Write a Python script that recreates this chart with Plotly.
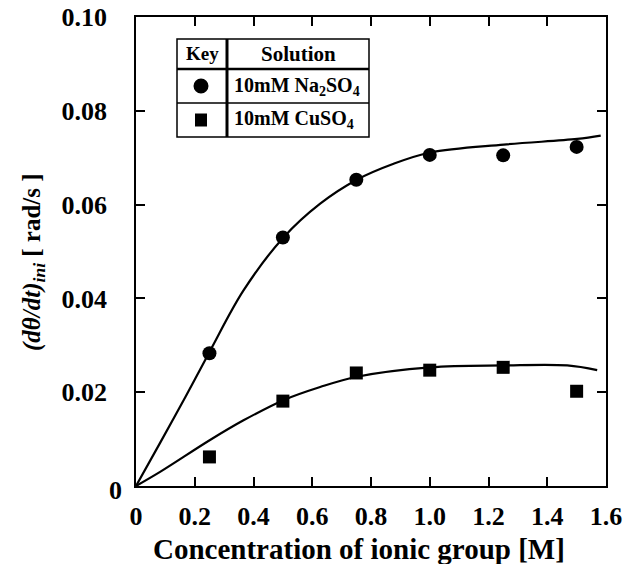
import plotly.graph_objects as go

# Measured points
x_pts = [0.25, 0.50, 0.75, 1.00, 1.25, 1.50]
na_pts = [0.0283, 0.0530, 0.0653, 0.0706, 0.0705, 0.0723]
cu_pts = [0.0062, 0.0181, 0.0241, 0.0247, 0.0253, 0.0202]

# Fitted curves
na_fit_x = [0.0, 0.082, 0.17, 0.252, 0.366, 0.502, 0.627, 0.752, 0.877, 1.002, 1.252, 1.502, 1.582]
na_fit_y = [0.0, 0.0092, 0.0192, 0.0288, 0.0417, 0.0530, 0.0602, 0.0653, 0.0687, 0.0711, 0.0728, 0.0740, 0.0747]
cu_fit_x = [0.0, 0.082, 0.252, 0.366, 0.502, 0.627, 0.752, 1.002, 1.252, 1.468, 1.57]
cu_fit_y = [0.0, 0.0030, 0.0098, 0.0140, 0.0183, 0.0211, 0.0233, 0.0253, 0.0257, 0.0257, 0.0247]

x_ticks = [0, 0.2, 0.4, 0.6, 0.8, 1.0, 1.2, 1.4, 1.6]
x_ticklabels = ["0", "0.2", "0.4", "0.6", "0.8", "1.0", "1.2", "1.4", "1.6"]
y_ticks = [0, 0.02, 0.04, 0.06, 0.08, 0.10]
y_ticklabels = ["0", "0.02", "0.04", "0.06", "0.08", "0.10"]

FONT = "Liberation Serif"
W, H = 623, 564
# plot frame in pixels
L, R, T, B = 136, 606, 17, 486


def px(x):
    return (x - L) / (R - L)


def py(y):
    return (B - y) / (B - T)


fig = go.Figure()
fig.add_trace(go.Scatter(x=na_fit_x, y=na_fit_y, mode="lines",
                         line=dict(color="black", width=2.2, shape="spline", smoothing=1.0),
                         showlegend=False, hoverinfo="skip"))
fig.add_trace(go.Scatter(x=cu_fit_x, y=cu_fit_y, mode="lines",
                         line=dict(color="black", width=2.2, shape="spline", smoothing=1.0),
                         showlegend=False, hoverinfo="skip"))
fig.add_trace(go.Scatter(x=x_pts, y=na_pts, mode="markers", name="10mM Na2SO4",
                         marker=dict(symbol="circle", size=14, color="black"), showlegend=False))
fig.add_trace(go.Scatter(x=x_pts, y=cu_pts, mode="markers", name="10mM CuSO4",
                         marker=dict(symbol="square", size=13, color="black"), showlegend=False))

axis_common = dict(showline=True, linecolor="black", linewidth=1.5, mirror="ticks",
                   ticks="inside", ticklen=9, tickwidth=1.5, tickcolor="black",
                   showgrid=False, zeroline=False, automargin=False, ticklabeloverflow="allow",
                   tickfont=dict(family=FONT, size=26, color="black", weight="bold"))

# the y-axis "0" label sits closer to the axis in the original, drawn separately below
y_ticktext = [""] + y_ticklabels[1:]

fig.update_xaxes(range=[0, 1.6], tickvals=x_ticks, ticktext=x_ticklabels,
                 ticklabelstandoff=6, **axis_common)
fig.update_yaxes(range=[0, 0.10], tickvals=y_ticks, ticktext=y_ticktext,
                 ticklabelstandoff=22, **axis_common)

shapes = []
# Legend table (pixels)
tl, tm, tr = 177, 227, 369
tt, r1, r2, tb = 39, 69, 103, 137
lw = 1.5
shapes.append(dict(type="rect", xref="paper", yref="paper", x0=px(tl), x1=px(tr), y0=py(tb), y1=py(tt),
                   line=dict(color="black", width=lw), fillcolor="white", layer="above"))
shapes.append(dict(type="line", xref="paper", yref="paper", x0=px(tm), x1=px(tm), y0=py(tb), y1=py(tt),
                   line=dict(color="black", width=3), layer="above"))
shapes.append(dict(type="line", xref="paper", yref="paper", x0=px(tl), x1=px(tr), y0=py(r1), y1=py(r1),
                   line=dict(color="black", width=2.5), layer="above"))
shapes.append(dict(type="line", xref="paper", yref="paper", x0=px(tl), x1=px(tr), y0=py(r2), y1=py(r2),
                   line=dict(color="black", width=1.5), layer="above"))
# Legend markers
cx, c1y, c2y = 201, 86, 120
shapes.append(dict(type="circle", xref="paper", yref="paper", x0=px(cx - 7.5), x1=px(cx + 7.5),
                   y0=py(c1y + 7.5), y1=py(c1y - 7.5), fillcolor="black", line=dict(color="black", width=0),
                   layer="above"))
shapes.append(dict(type="rect", xref="paper", yref="paper", x0=px(cx - 6), x1=px(cx + 6),
                   y0=py(c2y + 6.5), y1=py(c2y - 6.5), fillcolor="black", line=dict(color="black", width=0),
                   layer="above"))

annotations = [
    dict(text="<b>Key</b>", xref="paper", yref="paper", x=px((tl + tm) / 2), y=py((tt + r1) / 2),
         showarrow=False, font=dict(family=FONT, size=19, color="black"), xanchor="center", yanchor="middle"),
    dict(text="<b>Solution</b>", xref="paper", yref="paper", x=px((tm + tr) / 2), y=py((tt + r1) / 2),
         showarrow=False, font=dict(family=FONT, size=21, color="black"), xanchor="center", yanchor="middle"),
    dict(text="<b>10mM Na<sub>2</sub>SO<sub>4</sub></b>", xref="paper", yref="paper", x=px(232),
         y=py((r1 + r2) / 2), showarrow=False, font=dict(family=FONT, size=20, color="black"),
         xanchor="left", yanchor="middle"),
    dict(text="<b>10mM CuSO<sub>4</sub></b>", xref="paper", yref="paper", x=px(232),
         y=py((r2 + tb) / 2), showarrow=False, font=dict(family=FONT, size=20, color="black"),
         xanchor="left", yanchor="middle"),
    dict(text="<b>Concentration of ionic group [M]</b>", xref="paper", yref="paper", x=px(359), y=py(549),
         showarrow=False, font=dict(family=FONT, size=29, color="black"), xanchor="center", yanchor="middle"),
    dict(text="<b><i>(dθ/dt)<sub>ini</sub></i> [ rad/s ]</b>", xref="paper", yref="paper", x=px(33),
         y=py(262), textangle=-90, showarrow=False, font=dict(family=FONT, size=25, color="black"),
         xanchor="center", yanchor="middle"),
    dict(text="<b>%s</b>" % y_ticklabels[0], xref="paper", yref="y", x=px(115), y=y_ticks[0],
         yshift=-4, showarrow=False, font=dict(family=FONT, size=26, color="black"),
         xanchor="center", yanchor="middle"),
]

fig.update_layout(width=W, height=H, margin=dict(l=L, r=W - R, t=T, b=H - B),
                  paper_bgcolor="white", plot_bgcolor="white",
                  shapes=shapes, annotations=annotations, showlegend=False)

fig.write_html("out.html", config={"displayModeBar": False},
               post_script="document.body.style.margin='0';document.body.style.overflow='hidden';")
